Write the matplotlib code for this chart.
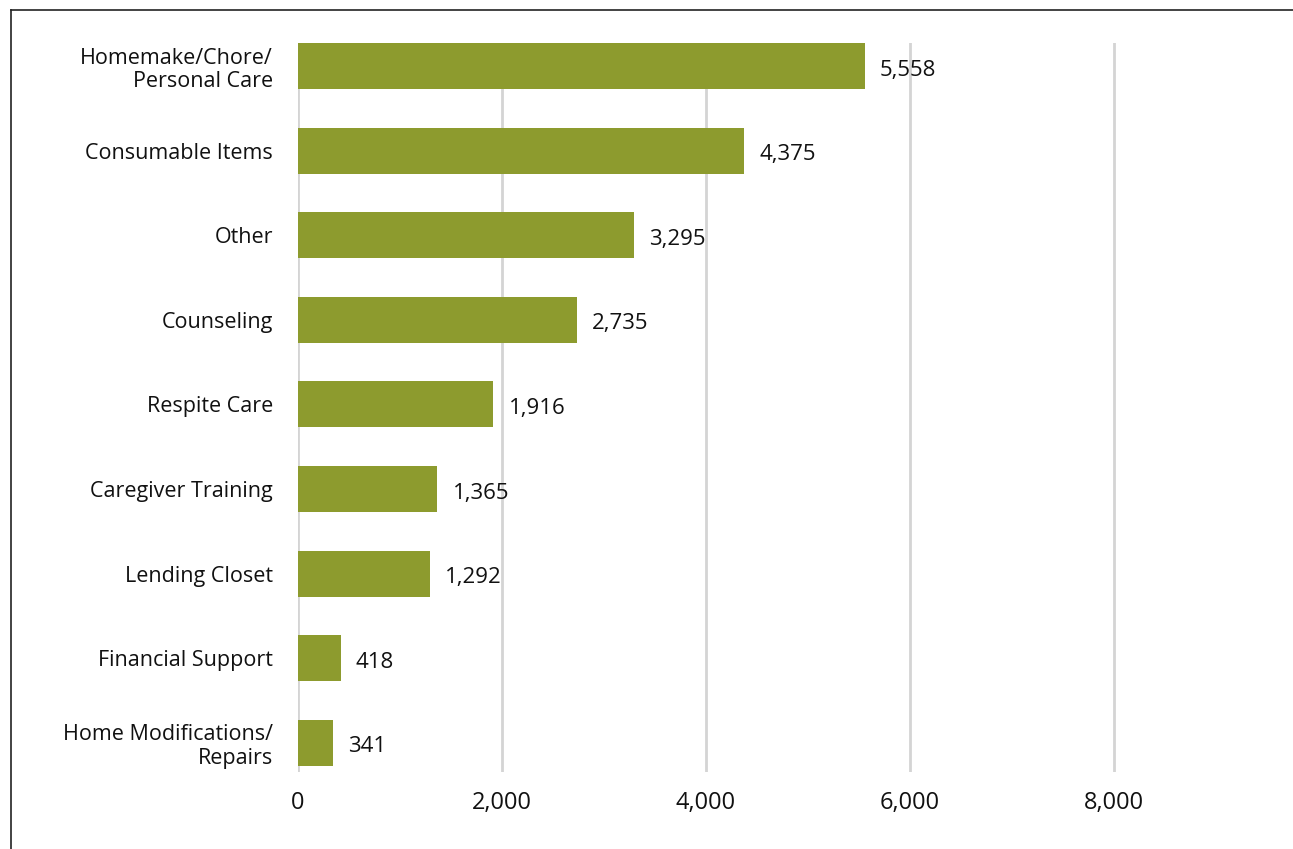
import matplotlib.pyplot as plt
import matplotlib
from matplotlib.lines import Line2D

matplotlib.rcParams.update({
    'font.family': ['Open Sans', 'DejaVu Sans'],
    'font.size': 15.5,
})

"Datos"

categories = ['Homemake/Chore/\nPersonal Care', 'Consumable Items', 'Other',
              'Counseling', 'Respite Care', 'Caregiver Training',
              'Lending Closet', 'Financial Support',
              'Home Modifications/\nRepairs']
values = [5558, 4375, 3295, 2735, 1916, 1365, 1292, 418, 341]
xticks = [0, 2000, 4000, 6000, 8000]

"Grafico"

fig = plt.figure(figsize=(12.93, 8.49), dpi=100)
ax = fig.add_axes([298/1293, 1-772/849, (1287-298)/1293, (772-43)/849])

pos = list(range(len(categories)))
ax.barh(pos, values, height=0.544, color='#8D9B2E', zorder=3)

for p, v in zip(pos, values):
    ax.annotate(f'{v:,}', (v, p), xytext=(11, -3), textcoords='offset points',
                va='center', ha='left', fontsize=16, color='#111111')

ax.set_xlim(0, 9700)
ax.set_ylim(8.345, -0.272)
ax.set_yticks(pos)
ax.set_yticklabels(categories, ha='right', multialignment='right',
                   color='#111111', linespacing=1.15)
ax.set_xticks(xticks)
ax.set_xticklabels([f'{t:,}' for t in xticks], color='#111111', fontsize=17)
ax.tick_params(axis='both', length=0)
ax.tick_params(axis='y', pad=18)
ax.tick_params(axis='x', pad=14)

for t in xticks:
    ax.axvline(t, color='#D4D4D4', linewidth=2, zorder=1)

for s in ax.spines.values():
    s.set_visible(False)

# marco superior e izquierdo
fig.add_artist(Line2D([11/1293, 1], [1-10/849, 1-10/849], color='#222222', linewidth=1.2))
fig.add_artist(Line2D([11/1293, 11/1293], [0, 1-10/849], color='#222222', linewidth=1.2))

fig.savefig('out.png', dpi=100)
